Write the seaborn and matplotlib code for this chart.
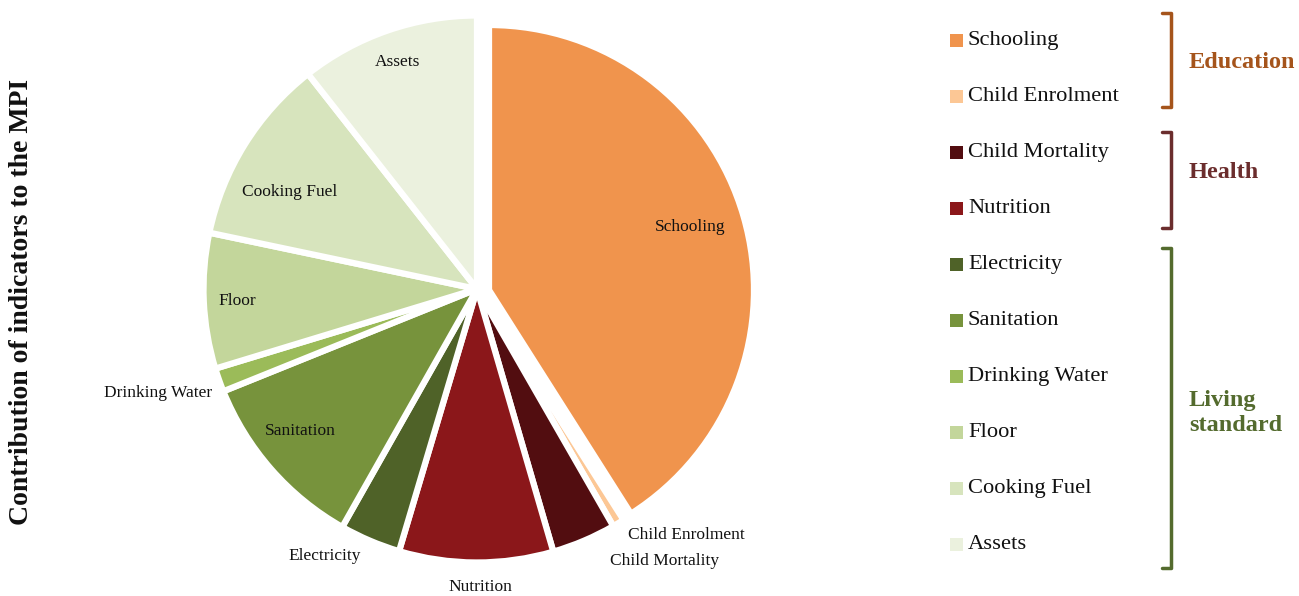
import matplotlib
matplotlib.use('Agg')
import matplotlib.pyplot as plt
import seaborn as sns
from matplotlib.patches import Rectangle

# contribution of each indicator (%)
indicators = ['Schooling', 'Child Enrolment', 'Child Mortality', 'Nutrition',
              'Electricity', 'Sanitation', 'Drinking Water', 'Floor',
              'Cooking Fuel', 'Assets']
shares = [41.0, 0.7, 3.8, 9.1, 3.6, 10.7, 1.4, 8.0, 11.1, 10.6]
colors = ['#F0944D', '#FCC795', '#520D10', '#8B171A', '#4F6228',
          '#77933C', '#9BBB59', '#C3D69B', '#D7E4BD', '#EBF1DE']
groups = ['Education', 'Health', 'Living\nstandard']
group_colors = ['#A5541B', '#6B2D2D', '#546B2E']

sns.set_style('white')
plt.rcParams['font.family'] = ['Liberation Serif', 'DejaVu Serif']

H = 596
fig = plt.figure(figsize=(12.99, 5.96), dpi=100)
ax = fig.add_axes([0, 0, 1, 1])

# pie in pixel coordinates (y measured from the bottom)
cx, cy, R = 477, H - 289, 273.5
wedges, _ = ax.pie(shares, colors=colors, startangle=90, counterclock=False,
                   center=(cx, cy), radius=R,
                   wedgeprops=dict(edgecolor='white', linewidth=4.5))
# schooling slice pulled out to the right
wedges[0].set_center((cx + 12, cy - 1))
wedges[0].set_radius(265)

ax.set_xlim(0, 1299)
ax.set_ylim(0, H)
ax.set_aspect('equal')
ax.axis('off')

# label positions (pixels from top-left) for the slice labels
label_pos = [(690, 227, 'center'), (628, 535, 'left'), (610, 561, 'left'),
             (480, 587, 'center'), (325, 556, 'center'), (300, 431, 'center'),
             (212, 393, 'right'), (237, 301, 'center'), (290, 192, 'center'),
             (398, 62, 'center')]
for name, (x, y, ha) in zip(indicators, label_pos):
    ax.text(x, H - y, name, ha=ha, va='center', fontsize=12.5, color='#111111')

# y-axis style title
ax.text(22, H - 302, 'Contribution of indicators to the MPI', rotation=90,
        ha='center', va='center', fontsize=20, fontweight='bold', color='#111111')

# legend
row_y = [40 + 56.1 * i for i in range(len(indicators))]
for name, c, y in zip(indicators, colors, row_y):
    ax.add_patch(Rectangle((950, H - y - 6.5), 13, 13, color=c, lw=0))
    ax.text(968, H - y, name, ha='left', va='center', fontsize=16.2, color='#111111')

# group brackets
brackets = [(13, 107), (132, 228), (248, 568)]
group_label_y = [62, 173, 413]
for (top, bot), g, gc, gy in zip(brackets, groups, group_colors, group_label_y):
    ax.plot([1162, 1171, 1171, 1162], [H - top, H - top, H - bot, H - bot],
            color=gc, lw=2.5, solid_joinstyle='round', solid_capstyle='round')
    ax.text(1189, H - gy, g, ha='left', va='center', fontsize=17.5,
            fontweight='bold', color=gc, linespacing=1.3)

fig.savefig('out.png', dpi=100)
